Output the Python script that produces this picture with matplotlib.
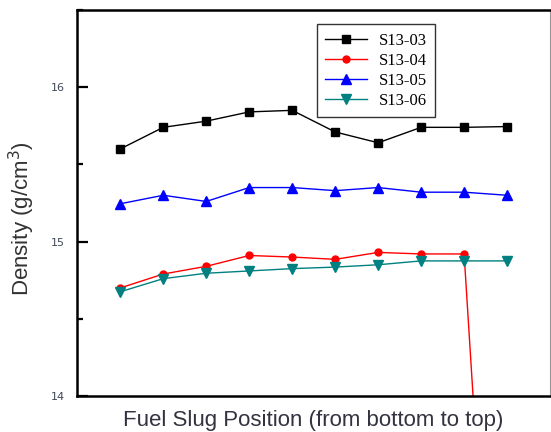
import matplotlib
matplotlib.use('Agg')
import matplotlib.pyplot as plt
from matplotlib.ticker import MultipleLocator, NullLocator

# slug positions, bottom to top
positions = [1, 2, 3, 4, 5, 6, 7, 8, 9, 10]

# density values (g/cm3)
s13_03 = [15.60, 15.74, 15.78, 15.84, 15.85, 15.71, 15.64, 15.74, 15.74, 15.745]
s13_04 = [14.70, 14.79, 14.84, 14.91, 14.90, 14.885, 14.93, 14.92, 14.92, 10.5]
s13_05 = [15.245, 15.30, 15.26, 15.35, 15.35, 15.33, 15.35, 15.32, 15.32, 15.30]
s13_06 = [14.675, 14.76, 14.795, 14.81, 14.825, 14.835, 14.85, 14.875, 14.875, 14.875]

labels = ['S13-03', 'S13-04', 'S13-05', 'S13-06']
y_ticks = [14, 15, 16]

fig = plt.figure(figsize=(5.51, 4.32), dpi=100)
ax = fig.add_axes([0.1403, 0.0833, 0.858, 0.8936])

ax.plot(positions, s13_03, color='black', marker='s', markersize=5.5, lw=1, label=labels[0])
ax.plot(positions, s13_04, color='red', marker='o', markersize=5, lw=1, label=labels[1])
ax.plot(positions, s13_05, color='blue', marker='^', markersize=7, lw=1, label=labels[2])
ax.plot(positions, s13_06, color='#008080', marker='v', markersize=7, lw=1, label=labels[3])

ax.set_xlim(0, 11)
ax.set_ylim(14, 16.5)
ax.set_yticks(y_ticks)
ax.set_yticklabels([str(t) for t in y_ticks])
ax.yaxis.set_minor_locator(MultipleLocator(0.5))
ax.xaxis.set_major_locator(NullLocator())
ax.tick_params(axis='y', which='major', direction='in', length=8, width=1.6,
               pad=9, labelsize=8, labelcolor='#404858')
ax.tick_params(axis='y', which='minor', direction='in', length=4.5, width=1.6)

for side in ['left', 'top', 'bottom']:
    ax.spines[side].set_linewidth(1.8)
ax.spines['right'].set_linewidth(0.8)
ax.spines['right'].set_color('#999999')

ax.set_ylabel('Density (g/cm$^3$)', fontsize=16, family='Liberation Sans',
              color='#333333')
ax.set_xlabel('Fuel Slug Position (from bottom to top)', fontsize=16,
              family='Liberation Sans', color='#333340', labelpad=10)
ax.yaxis.set_label_coords(-0.085, 0.46)

leg = ax.legend(loc='upper left', bbox_to_anchor=(0.507, 0.963), frameon=True,
                fancybox=False, prop={'family': 'Liberation Serif', 'size': 12},
                handlelength=2.5, handletextpad=0.7, labelspacing=0.24,
                borderpad=0.5, borderaxespad=0)
leg.get_frame().set_edgecolor('black')
leg.get_frame().set_linewidth(1.0)

fig.savefig('out.png', dpi=100)
